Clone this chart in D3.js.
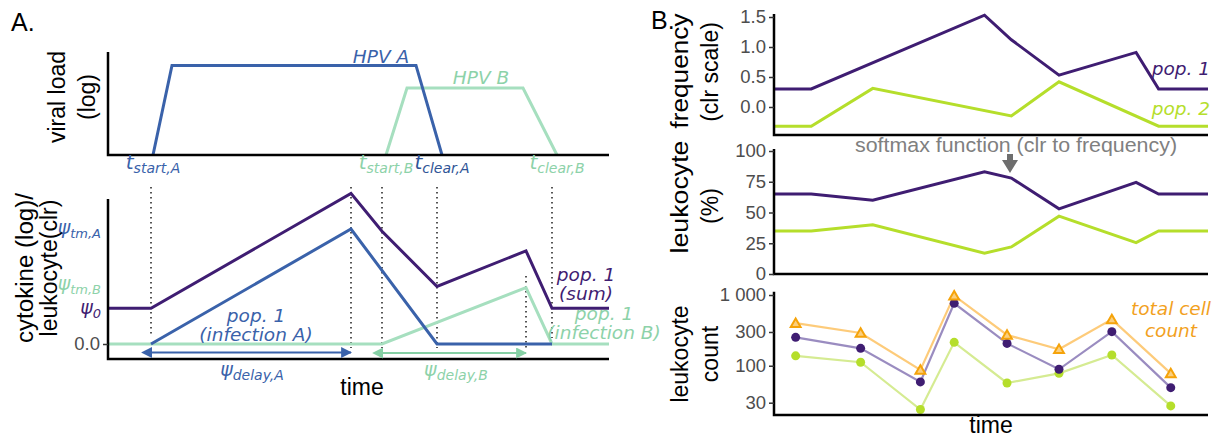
<!DOCTYPE html>
<html>
<head>
<meta charset="utf-8">
<script src="https://cdn.jsdelivr.net/npm/d3@7"></script>
<style>
  body { margin: 0; background: #fff; }
  svg { display: block; }
  text { font-family: "Liberation Sans", Arial, sans-serif; }
  .anno { font-family: "DejaVu Sans", sans-serif; font-style: italic; }
</style>
</head>
<body>
<svg id="fig" width="1225" height="438"></svg>
<script>
// ---------- panel A: viral load ----------
const hpvATime = [45, 64, 308, 334];
const hpvALoad = [0, 0.87, 0.87, 0];
const hpvBTime = [278, 299, 415, 449];
const hpvBLoad = [0, 0.65, 0.65, 0];
const eventTimes = [45, 278, 334, 449];
const eventSubs = ['start,A', 'start,B', 'clear,A', 'clear,B'];

// ---------- panel A: cytokine / leukocyte ----------
const sumTime = [0, 43, 243, 274, 329, 418, 444, 501];
const sumVal = [0.31, 0.31, 1.31, 0.98, 0.50, 0.81, 0.31, 0.31];
const infATime = [43, 243, 329, 444];
const infAVal = [0, 1, 0, 0];
const infBTime = [0, 274, 418, 444, 501];
const infBVal = [0, 0, 0.49, 0, 0];
const psiSubs = ['tm,A', 'tm,B', '0'];
const psiVals = [1, 0.49, 0.31];
const dottedTimes = [43, 243, 274, 329, 418, 444];

// ---------- panel B: clr scale ----------
const clrTime1 = [0, 43, 243, 274, 329, 418, 444, 501];
const clrPop1 = [0.30, 0.30, 1.53, 1.12, 0.53, 0.91, 0.30, 0.30];
const clrTime2 = [0, 43, 114, 274, 329, 444, 501];
const clrPop2 = [-0.32, -0.32, 0.31, -0.15, 0.42, -0.32, -0.32];
const clrTicks = [0, 0.5, 1, 1.5];

// ---------- panel B: percent ----------
const pctTime = [0, 43, 114, 243, 274, 329, 418, 444, 501];
const pctPop1 = [65, 65, 60, 83, 78, 53, 74.5, 65, 65];
const pctPop2 = [35, 35, 40, 17, 22, 47, 25.5, 35, 35];
const pctTicks = [0, 25, 50, 75, 100];

// ---------- panel B: counts ----------
const sampleTime = [25, 100, 169, 208, 269, 329, 390, 458];
const countTotal = [400, 290, 87, 980, 272, 171, 453, 78];
const countPop1 = [252, 176, 59, 763, 207, 89, 303, 49];
const countPop2 = [138, 112, 24, 214, 57, 78, 142, 27];
const countTicks = [30, 100, 300, 1000];

const purple = '#3f1d72', lime = '#b5de2b', blue = '#3a62aa';
const mint = '#a6dfbf', mintText = '#8dd2a9', orange = '#f5a30a';
const grey = '#4d4d4d';

const svg = d3.select('#fig');
const zip = (xs, ys) => xs.map((t, i) => [t, ys[i]]);

function frame(x0, x1, yTop, yBot) {
  svg.append('path')
    .attr('d', `M${x0},${yTop}V${yBot}H${x1}`)
    .attr('fill', 'none').attr('stroke', '#000').attr('stroke-width', 2.5);
}

function drawLine(pts, x, y, color, width, opacity) {
  const line = d3.line().x(d => x(d[0])).y(d => y(d[1]));
  svg.append('path').datum(pts)
    .attr('fill', 'none').attr('stroke', color)
    .attr('stroke-width', width).attr('stroke-opacity', opacity || 1)
    .attr('d', line);
}

// rotated axis title; lens gives an optional stretched length per line
function yTitle(lines, xs, cy, lens) {
  lines.forEach((s, i) => {
    const t = svg.append('text')
      .attr('transform', `translate(${xs[i]},${cy[i]}) rotate(-90)`)
      .attr('text-anchor', 'middle').attr('font-size', 23)
      .attr('fill', '#000').text(s);
    if (lens && lens[i]) t.attr('textLength', lens[i]).attr('lengthAdjust', 'spacingAndGlyphs');
  });
}

function yTicks(scale, ticks, x, fmt) {
  const g = svg.append('g').attr('transform', `translate(${x},0)`)
    .call(d3.axisLeft(scale).tickValues(ticks).tickSize(5).tickPadding(3).tickFormat(fmt));
  g.select('.domain').remove();
  g.selectAll('line').attr('stroke', '#333').attr('stroke-width', 1.5);
  g.selectAll('text').attr('font-size', 18.5).attr('fill', grey)
    .attr('font-family', '"Liberation Sans", Arial, sans-serif');
  return g;
}

function subLabel(x, y, main, sub, color, anchor, size, subSize) {
  const t = svg.append('text').attr('x', x).attr('y', y)
    .attr('text-anchor', anchor).attr('fill', color).attr('class', 'anno')
    .attr('font-size', size);
  t.append('tspan').text(main);
  t.append('tspan').attr('dy', 4).attr('font-size', subSize).text(sub);
}

// ================= panel labels =================
svg.append('text').attr('x', 11).attr('y', 31).attr('font-size', 25).text('A.');
svg.append('text').attr('x', 651).attr('y', 29).attr('font-size', 25).text('B.');

// ================= A top =================
const xA = d3.scaleLinear().domain([0, 501]).range([108, 609]);
const yV = d3.scaleLinear().domain([0, 1]).range([155, 52]);

drawLine(zip(hpvBTime, hpvBLoad), xA, yV, mint, 3);
drawLine(zip(hpvATime, hpvALoad), xA, yV, blue, 3);
frame(108, 609, 52, 155);

svg.append('text').attr('class', 'anno').attr('x', 381).attr('y', 63)
  .attr('text-anchor', 'middle').attr('font-size', 18.5).attr('fill', blue).text('HPV A');
svg.append('text').attr('class', 'anno').attr('x', 481).attr('y', 84)
  .attr('text-anchor', 'middle').attr('font-size', 18.5).attr('fill', mintText).text('HPV B');

const eventColors = [blue, mintText, '#2f5496', mintText];
eventTimes.forEach((t, i) => {
  subLabel(xA(t), 169, 't', eventSubs[i], eventColors[i], 'middle', 20, 14);
});

yTitle(['viral load', '(log)'], [65, 95], [97, 97]);

// ================= A bottom =================
const yC = d3.scaleLinear().domain([0, 1]).range([344, 229]);

// dotted guides
dottedTimes.forEach(t => {
  const top = t === 418 ? 276 : 187;
  const bot = t === 43 ? 335 : (t === 444 ? 338 : 348);
  svg.append('line')
    .attr('x1', xA(t)).attr('x2', xA(t)).attr('y1', top).attr('y2', bot)
    .attr('stroke', '#555').attr('stroke-width', 2).attr('stroke-dasharray', '1.5,3.5');
});

drawLine(zip(infBTime, infBVal), xA, yC, mint, 3);
drawLine(zip(infATime, infAVal), xA, yC, blue, 3);
drawLine(zip(sumTime, sumVal), xA, yC, purple, 3);
frame(108, 609, 199, 359);

yTicks(yC, [0], 108, d3.format('.1f'));

// psi labels beside the axis (tm,B nudged up so it clears psi_0)
const psiColors = [blue, mintText, purple];
const psiNudge = [5, 2, 6];
psiVals.forEach((v, i) => {
  subLabel(101, yC(v) + psiNudge[i], 'ψ', psiSubs[i], psiColors[i], 'end', 19, 13);
});

// arrows
const defs = svg.append('defs');
[['blue', blue], ['mint', '#86d0a5']].forEach(([id, c]) => {
  ['s', 'e'].forEach(k => {
    defs.append('marker').attr('id', `arr-${id}-${k}`)
      .attr('viewBox', '0 0 10 10').attr('refX', k === 'e' ? 9 : 1).attr('refY', 5)
      .attr('markerWidth', 5).attr('markerHeight', 5).attr('markerUnits', 'strokeWidth')
      .attr('orient', k === 'e' ? 'auto' : 'auto-start-reverse')
      .append('path').attr('d', 'M0,0L10,5L0,10z').attr('fill', c);
  });
});
svg.append('line').attr('x1', xA(43)).attr('x2', xA(243)).attr('y1', 352.5).attr('y2', 352.5)
  .attr('stroke', blue).attr('stroke-width', 2.2)
  .attr('marker-start', 'url(#arr-blue-s)').attr('marker-end', 'url(#arr-blue-e)');
svg.append('line').attr('x1', xA(274)).attr('x2', xA(418)).attr('y1', 353).attr('y2', 353)
  .attr('stroke', '#86d0a5').attr('stroke-width', 2.2)
  .attr('marker-start', 'url(#arr-mint-s)').attr('marker-end', 'url(#arr-mint-e)');

subLabel(252, 376, 'ψ', 'delay,A', blue, 'middle', 19, 14);
subLabel(456, 376, 'ψ', 'delay,B', mintText, 'middle', 19, 14);

function twoLines(x, y, lines, color, gap) {
  lines.forEach((s, i) => {
    svg.append('text').attr('class', 'anno').attr('x', x).attr('y', y + i * (gap || 19))
      .attr('text-anchor', 'middle').attr('font-size', 18.5).attr('fill', color).text(s);
  });
}
twoLines(256, 322, ['pop. 1', '(infection A)'], blue);
twoLines(586, 281, ['pop. 1', '(sum)'], purple);
twoLines(604, 320, ['pop. 1', '(infection B)'], mintText);

svg.append('text').attr('x', 362).attr('y', 395).attr('text-anchor', 'middle')
  .attr('font-size', 23).text('time');

yTitle(['cytokine (log)/', 'leukocyte(clr)'], [33, 57], [268, 268], [150, 0]);

// ================= B top: clr =================
const xB = d3.scaleLinear().domain([0, 501]).range([774, 1208]);
const yClr = d3.scaleLinear().domain([-0.467, 1.55]).range([135, 14]);

drawLine(zip(clrTime2, clrPop2), xB, yClr, lime, 3);
drawLine(zip(clrTime1, clrPop1), xB, yClr, purple, 3);
frame(774, 1208, 14, 135);
yTicks(yClr, clrTicks, 774, d3.format('.1f'));

svg.append('text').attr('class', 'anno').attr('x', 1210).attr('y', 75)
  .attr('text-anchor', 'end').attr('font-size', 18.5).attr('fill', purple).text('pop. 1');
svg.append('text').attr('class', 'anno').attr('x', 1210).attr('y', 115)
  .attr('text-anchor', 'end').attr('font-size', 18.5).attr('fill', lime).text('pop. 2');

yTitle(['frequency', '(clr scale)'], [688, 718], [71, 72], [115, 0]);

// ================= B middle: percent =================
const yPct = d3.scaleLinear().domain([0, 100]).range([274, 151]);

drawLine(zip(pctTime, pctPop2), xB, yPct, lime, 3);
drawLine(zip(pctTime, pctPop1), xB, yPct, purple, 3);
frame(774, 1208, 149, 274);
yTicks(yPct, pctTicks, 774, d3.format('d'));

svg.append('text').attr('x', 1016).attr('y', 152).attr('text-anchor', 'middle')
  .attr('font-family', '"DejaVu Sans", sans-serif').attr('font-size', 20.5)
  .attr('textLength', 322).attr('lengthAdjust', 'spacingAndGlyphs')
  .attr('fill', '#808080').text('softmax function (clr to frequency)');
svg.append('path')
  .attr('d', 'M1007,154H1013V160H1018L1010,173L1002,160H1007Z')
  .attr('fill', '#6e6e6e');

yTitle(['leukocyte', '(%)'], [688, 718], [197, 206], [113, 0]);

// ================= B bottom: counts =================
const yCnt = d3.scaleLog().domain([20.1, 1114]).range([415, 291.7]);

drawLine(zip(sampleTime, countTotal), xB, yCnt, '#fdc56c', 2.2, 0.9);
drawLine(zip(sampleTime, countPop1), xB, yCnt, '#8f7fb9', 2.2, 0.9);
drawLine(zip(sampleTime, countPop2), xB, yCnt, '#d5eb92', 2.2, 1);

svg.append('g').selectAll('circle').data(zip(sampleTime, countPop2)).join('circle')
  .attr('cx', d => xB(d[0])).attr('cy', d => yCnt(d[1])).attr('r', 4.5).attr('fill', lime);
svg.append('g').selectAll('circle').data(zip(sampleTime, countPop1)).join('circle')
  .attr('cx', d => xB(d[0])).attr('cy', d => yCnt(d[1])).attr('r', 4.5).attr('fill', purple);
const tri = d3.symbol().type(d3.symbolTriangle).size(42);
svg.append('g').selectAll('path').data(zip(sampleTime, countTotal)).join('path')
  .attr('transform', d => `translate(${xB(d[0])},${yCnt(d[1]) + 1})`)
  .attr('d', tri).attr('fill', '#fbcf7e').attr('stroke', orange).attr('stroke-width', 2);

frame(774, 1208, 291.7, 415);
yTicks(yCnt, countTicks, 774, d => d === 1000 ? '1 000' : String(d));

twoLines(1171, 315, ['total cell', 'count'], '#f2a11e', 22);

svg.append('text').attr('x', 991).attr('y', 433).attr('text-anchor', 'middle')
  .attr('font-size', 23).text('time');

yTitle(['leukocyte', 'count'], [688, 718], [354, 354]);
</script>
</body>
</html>
